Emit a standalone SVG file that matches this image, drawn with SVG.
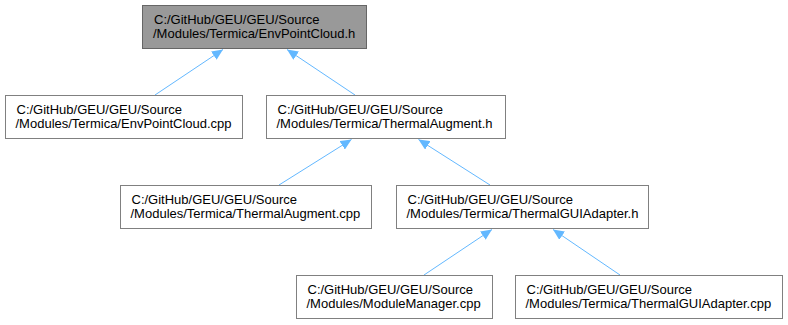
<svg xmlns="http://www.w3.org/2000/svg" width="788" height="325" viewBox="0 0 788 325">
  <style>
    .box { fill: #ffffff; stroke: #808080; stroke-width: 1; }
    .root { fill: #999999; stroke: #666666; stroke-width: 1; }
    .lbl { font-family: "Liberation Sans", Arial, sans-serif; font-size: 13px; fill: #000000; }
    .edge { fill: none; stroke: #63b8ff; stroke-width: 1; marker-end: url(#arrow); }
  </style>
  <defs>
    <marker id="arrow" markerUnits="userSpaceOnUse" markerWidth="12" markerHeight="10" refX="11" refY="5" orient="auto">
      <path d="M0,0 L11,5 L0,10 z" fill="#63b8ff"/>
    </marker>
  </defs>
  <rect width="788" height="325" fill="#ffffff"/>

  <g id="edges">
    <line class="edge" x1="155" y1="95" x2="223" y2="49.5"/>
    <line class="edge" x1="355" y1="95" x2="287" y2="49.5"/>
    <line class="edge" x1="279" y1="185" x2="351.5" y2="139.5"/>
    <line class="edge" x1="490" y1="185" x2="418.5" y2="139.5"/>
    <line class="edge" x1="424" y1="275" x2="492" y2="229.5"/>
    <line class="edge" x1="620" y1="275" x2="553" y2="229.5"/>
  </g>

  <g id="node-envpointcloud-h">
    <rect class="root" x="142.5" y="5.5" width="224" height="43"/>
    <text class="lbl" x="154" y="24">C:/GitHub/GEU/GEU/Source</text>
    <text class="lbl" x="153" y="38">/Modules/Termica/EnvPointCloud.h</text>
  </g>

  <g id="node-envpointcloud-cpp">
    <rect class="box" x="5.5" y="95.5" width="237" height="43"/>
    <text class="lbl" x="16.5" y="114">C:/GitHub/GEU/GEU/Source</text>
    <text class="lbl" x="15.5" y="128">/Modules/Termica/EnvPointCloud.cpp</text>
  </g>

  <g id="node-thermalaugment-h">
    <rect class="box" x="266.5" y="95.5" width="239" height="43"/>
    <text class="lbl" x="277.5" y="114">C:/GitHub/GEU/GEU/Source</text>
    <text class="lbl" x="276.5" y="128">/Modules/Termica/ThermalAugment.h</text>
  </g>

  <g id="node-thermalaugment-cpp">
    <rect class="box" x="120.5" y="185.5" width="251" height="43"/>
    <text class="lbl" x="131.5" y="204">C:/GitHub/GEU/GEU/Source</text>
    <text class="lbl" x="130.5" y="218">/Modules/Termica/ThermalAugment.cpp</text>
  </g>

  <g id="node-thermalguiadapter-h">
    <rect class="box" x="396.5" y="185.5" width="252" height="43"/>
    <text class="lbl" x="407.5" y="204">C:/GitHub/GEU/GEU/Source</text>
    <text class="lbl" x="406.5" y="218">/Modules/Termica/ThermalGUIAdapter.h</text>
  </g>

  <g id="node-modulemanager-cpp">
    <rect class="box" x="296.5" y="275.5" width="196" height="43"/>
    <text class="lbl" x="307.5" y="294">C:/GitHub/GEU/GEU/Source</text>
    <text class="lbl" x="306.5" y="308">/Modules/ModuleManager.cpp</text>
  </g>

  <g id="node-thermalguiadapter-cpp">
    <rect class="box" x="515.5" y="275.5" width="267" height="43"/>
    <text class="lbl" x="526.5" y="294">C:/GitHub/GEU/GEU/Source</text>
    <text class="lbl" x="525.5" y="308">/Modules/Termica/ThermalGUIAdapter.cpp</text>
  </g>
</svg>
